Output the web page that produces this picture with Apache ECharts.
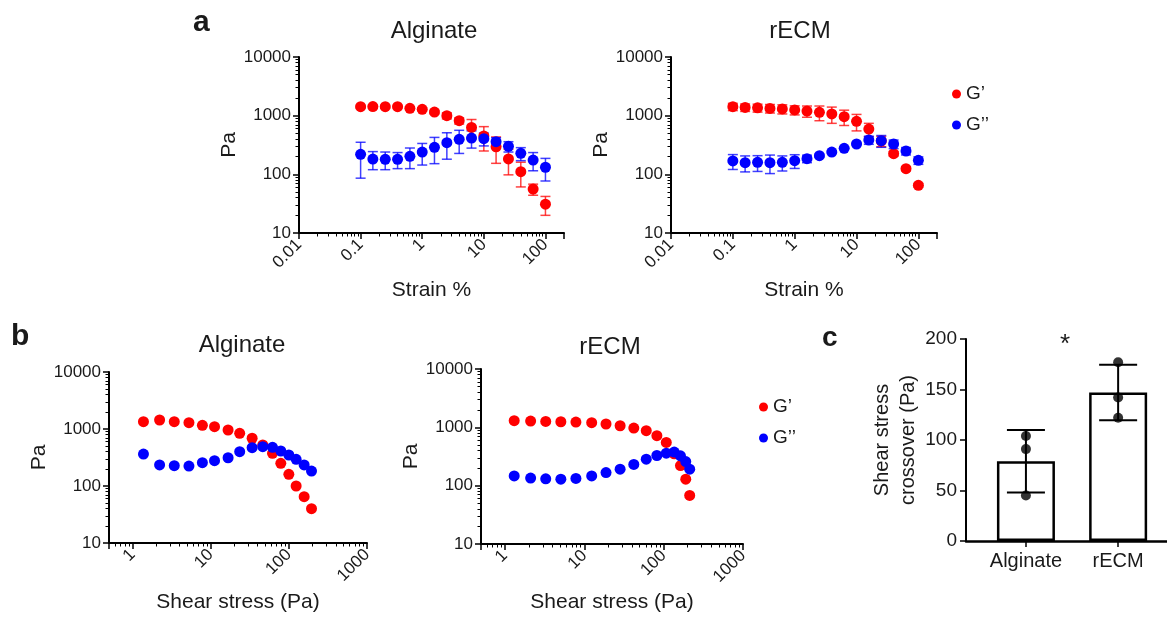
<!DOCTYPE html>
<html><head><meta charset="utf-8">
<script src="https://cdn.jsdelivr.net/npm/echarts@6/dist/echarts.min.js"></script>
<style>html,body{margin:0;padding:0;background:#fff}#c{width:1167px;height:617px}</style>
</head><body><div id="c"></div>
<script>
// ---------- data ----------
const strainPct = [0.1, 0.158, 0.251, 0.398, 0.631, 1, 1.58, 2.51, 3.98, 6.31, 10, 15.8, 25.1, 39.8, 63.1, 100];
// panel a, Alginate (strain sweep, mean ± SD)
const algGp   = [1420, 1430, 1420, 1420, 1334, 1283, 1153, 1000, 820, 630, 450, 294, 183, 111, 56, 31];
const algGpSD = [60, 60, 60, 60, 80, 80, 80, 120, 100, 230, 200, 140, 85, 50, 12, 11];
const algGpp   = [219, 182, 180, 180, 203, 240, 289, 346, 395, 415, 405, 360, 300, 228, 175, 132];
const algGppSD = [133, 62, 60, 55, 78, 96, 137, 165, 168, 135, 100, 60, 60, 57, 60, 55];
// panel a, rECM
const ecmGp   = [1420, 1380, 1360, 1330, 1300, 1250, 1200, 1140, 1070, 960, 800, 590, 370, 225, 125, 65];
const ecmGpSD = [200, 200, 210, 220, 230, 220, 260, 320, 330, 280, 250, 150, 75, 20, 10, 5];
const ecmGpp   = [169, 158, 160, 158, 160, 171, 185, 208, 240, 278, 329, 385, 374, 329, 250, 173];
const ecmGppSD = [48, 48, 48, 55, 46, 45, 27, 10, 8, 8, 10, 60, 85, 55, 36, 25];
// panel b, stress sweep
const algStress = [1.38, 2.22, 3.42, 5.27, 7.83, 11.2, 16.7, 23.5, 33.9, 46.4, 61.8, 78.9, 100, 124, 157, 195];
const algStressGp  = [1343, 1439, 1343, 1291, 1161, 1099, 960, 841, 688, 524, 375, 250, 160, 100, 65, 40];
const algStressGpp = [364, 234, 227, 224, 256, 278, 313, 400, 470, 489, 478, 411, 350, 294, 234, 183];
const ecmStress = [1.31, 2.11, 3.27, 5.07, 7.85, 12.4, 18.8, 28.3, 42.1, 60.4, 82.2, 108, 136, 163, 190, 213];
const ecmStressGp  = [1298, 1282, 1262, 1247, 1233, 1199, 1140, 1064, 972, 875, 718, 551, 351, 221, 129, 68];
const ecmStressGpp = [147, 135, 131, 129, 133, 147, 168, 192, 231, 285, 329, 361, 376, 325, 259, 192];
// panel c, crossover
const materials = ['Alginate', 'rECM'];
const crossMean = [79, 147];
const crossSD   = [31, 27.5];
const crossPoints = [[104, 91, 45], [177, 142, 122]];
// ticks / labels
const seriesNames = ['G\u2019', 'G\u2019\u2019'];
const panelTitles = ['Alginate', 'rECM'];

// ---------- helpers ----------
const FONT = '"Liberation Sans", Arial, sans-serif';
const TXT = '#1a1a1a';
const RED = '#ff0000', BLUE = '#0000ff';
const zip = (xs, ys) => xs.map((x, i) => [x, ys[i]]);
const zip3 = (xs, ys, es) => xs.map((x, i) => [x, ys[i], es[i]]);
function powLabel(v) {
  const l = Math.log10(v);
  return Math.abs(l - Math.round(l)) < 1e-6 ? String(Number(v.toPrecision(6))) : '';
}
function logAxis(gi, min, max, extra) {
  return Object.assign({
    type: 'log', logBase: 10, gridIndex: gi, min: min, max: max,
    axisLine: { show: true, onZero: false, lineStyle: { color: '#000', width: 2 } },
    axisTick: { show: true, inside: false, length: 6, lineStyle: { color: '#000', width: 1.5 } },
    minorTick: { show: true, splitNumber: 9, length: 3.5, lineStyle: { color: '#000', width: 1 } },
    splitLine: { show: false }, minorSplitLine: { show: false },
    nameTextStyle: { fontSize: 21, color: TXT, fontFamily: FONT },
    axisLabel: { fontSize: 17, color: TXT, fontFamily: FONT, formatter: powLabel }
  }, extra);
}
function xLog(gi, min, max, name, gap) {
  const a = logAxis(gi, min, max, { name: name, nameLocation: 'middle', nameGap: gap });
  a.axisLabel.rotate = 45; a.axisLabel.margin = 9;
  return a;
}
function yLog(gi, gap) {
  const a = logAxis(gi, 10, 10000, { name: 'Pa', nameLocation: 'middle', nameGap: gap });
  a.axisLabel.margin = 8;
  return a;
}
function errRender(color, capHalf, width, opacity) {
  return function (params, api) {
    const x = api.value(0), y = api.value(1), e = api.value(2);
    const lo = Math.max(y - e, 1e-6);
    const p0 = api.coord([x, y + e]);
    const p1 = api.coord([x, lo]);
    const st = { stroke: color, lineWidth: width, opacity: opacity };
    return {
      type: 'group', children: [
        { type: 'line', shape: { x1: p0[0], y1: p0[1], x2: p1[0], y2: p1[1] }, style: st },
        { type: 'line', shape: { x1: p0[0] - capHalf, y1: p0[1], x2: p0[0] + capHalf, y2: p0[1] }, style: st },
        { type: 'line', shape: { x1: p1[0] - capHalf, y1: p1[1], x2: p1[0] + capHalf, y2: p1[1] }, style: st }
      ]
    };
  };
}
function errSeries(gi, data, color) {
  return { type: 'custom', name: 'err' + gi + color, xAxisIndex: gi, yAxisIndex: gi, z: 1,
    renderItem: errRender(color, 5, 1.5, 0.75), data: data, encode: { x: 0, y: 1 }, silent: true };
}
function dots(gi, name, data, color) {
  return { type: 'scatter', name: name, xAxisIndex: gi, yAxisIndex: gi, z: 3, data: data,
    symbol: 'circle', symbolSize: 11, itemStyle: { color: color, opacity: 1 }, silent: true };
}
function legendAt(left, top) {
  return { data: seriesNames, orient: 'vertical', left: left, top: top, icon: 'circle',
    itemWidth: 9, itemHeight: 9, itemGap: 11, itemTextGap: 9, selectedMode: false,
    textStyle: { fontSize: 19, lineHeight: 20, color: TXT, fontFamily: FONT } };
}
function txt(text, x, y, font, align) {
  return { type: 'text', x: x, y: y, silent: true,
    style: { text: text, font: font, fill: TXT, textAlign: align || 'center', textVerticalAlign: 'middle' } };
}

// bar-panel x axis ticks: one per material
const matIdx = materials.map((m, i) => i);

const option = {
  animation: false,
  backgroundColor: '#fff',
  textStyle: { fontFamily: FONT },
  grid: [
    { left: 299, top: 57, width: 265, height: 176, outerBoundsMode: 'none' },
    { left: 671, top: 57, width: 266, height: 176, outerBoundsMode: 'none' },
    { left: 109, top: 372, width: 258, height: 171, outerBoundsMode: 'none' },
    { left: 481, top: 369, width: 262, height: 175, outerBoundsMode: 'none' },
    { left: 966, top: 339, width: 201, height: 202, outerBoundsMode: 'none' }
  ],
  xAxis: [
    xLog(0, 0.01, 200, 'Strain %', 47),
    xLog(1, 0.01, 200, 'Strain %', 47),
    xLog(2, 0.5, 1000, 'Shear stress (Pa)', 49),
    xLog(3, 0.5, 1000, 'Shear stress (Pa)', 48),
    { type: 'value', gridIndex: 4, min: -0.65, max: 1.53,
      axisLine: { show: true, onZero: false, lineStyle: { color: '#000', width: 2.5 } },
      axisTick: { show: true, customValues: matIdx, length: 6, lineStyle: { color: '#000', width: 1.5 } },
      axisLabel: { customValues: matIdx, formatter: v => materials[Math.round(v)] || '', fontSize: 20, color: TXT, fontFamily: FONT, margin: 10 },
      splitLine: { show: false } }
  ],
  yAxis: [
    yLog(0, 54), yLog(1, 54), yLog(2, 57), yLog(3, 55),
    { type: 'value', gridIndex: 4, min: 0, max: 200, interval: 50,
      name: 'Shear stress\ncrossover (Pa)', nameLocation: 'middle', nameGap: 45,
      nameTextStyle: { fontSize: 20, lineHeight: 26, color: TXT, fontFamily: FONT },
      axisLine: { show: true, onZero: false, lineStyle: { color: '#000', width: 2 } },
      axisTick: { show: true, length: 6, lineStyle: { color: '#000', width: 1.5 } },
      axisLabel: { fontSize: 19, color: TXT, fontFamily: FONT, margin: 9 },
      splitLine: { show: false } }
  ],
  legend: [legendAt(947, 79), legendAt(754, 392)],
  graphic: [
    txt('a', 193, 23, 'bold 30px ' + FONT, 'left'),
    txt('b', 11, 337, 'bold 30px ' + FONT, 'left'),
    txt('c', 822, 338, 'bold 28px ' + FONT, 'left'),
    txt(panelTitles[0], 434, 31, '24px ' + FONT),
    txt(panelTitles[1], 800, 31, '24px ' + FONT),
    txt(panelTitles[0], 242, 345, '24px ' + FONT),
    txt(panelTitles[1], 610, 347, '24px ' + FONT),
    txt('*', 1065, 345, '26px ' + FONT)
  ],
  series: [
    errSeries(0, zip3(strainPct, algGp, algGpSD), RED),
    errSeries(0, zip3(strainPct, algGpp, algGppSD), BLUE),
    dots(0, seriesNames[0], zip(strainPct, algGp), RED),
    dots(0, seriesNames[1], zip(strainPct, algGpp), BLUE),
    errSeries(1, zip3(strainPct, ecmGp, ecmGpSD), RED),
    errSeries(1, zip3(strainPct, ecmGpp, ecmGppSD), BLUE),
    dots(1, seriesNames[0], zip(strainPct, ecmGp), RED),
    dots(1, seriesNames[1], zip(strainPct, ecmGpp), BLUE),
    dots(2, seriesNames[0], zip(algStress, algStressGp), RED),
    dots(2, seriesNames[1], zip(algStress, algStressGpp), BLUE),
    dots(3, seriesNames[0], zip(ecmStress, ecmStressGp), RED),
    dots(3, seriesNames[1], zip(ecmStress, ecmStressGpp), BLUE),
    { type: 'bar', name: 'crossover', xAxisIndex: 4, yAxisIndex: 4, z: 1,
      data: crossMean.map((v, i) => [i, v]), barWidth: 58,
      itemStyle: { color: '#fff', borderColor: '#000', borderWidth: 2.5 }, silent: true },
    { type: 'custom', name: 'crossErr', xAxisIndex: 4, yAxisIndex: 4, z: 3,
      renderItem: errRender('#000', 19, 2, 1), encode: { x: 0, y: 1 },
      data: crossMean.map((v, i) => [i, v, crossSD[i]]), silent: true },
    { type: 'scatter', name: 'crossPts', xAxisIndex: 4, yAxisIndex: 4, z: 4,
      symbolSize: 10, itemStyle: { color: '#000' }, silent: true,
      data: crossPoints.flatMap((pts, i) => pts.map(p => [i, p])) }
  ]
};
const chart = echarts.init(document.getElementById('c'), null, { renderer: 'canvas' });
chart.setOption(option);
</script>
</body></html>
